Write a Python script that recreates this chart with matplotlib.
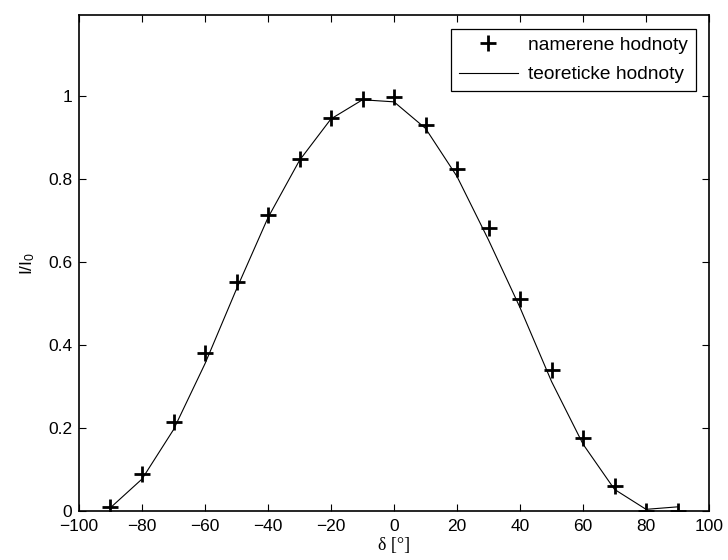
import matplotlib
matplotlib.use('Agg')
import matplotlib.pyplot as plt
import numpy as np

plt.rcParams['font.family'] = ['Liberation Sans', 'DejaVu Sans']
plt.rcParams['mathtext.fontset'] = 'custom'
plt.rcParams['mathtext.rm'] = 'Liberation Sans'
plt.rcParams['mathtext.it'] = 'Liberation Sans'

delta = [-90, -80, -70, -60, -50, -40, -30, -20, -10, 0,
         10, 20, 30, 40, 50, 60, 70, 80, 90]
measured = [0.010, 0.090, 0.214, 0.381, 0.552, 0.713, 0.849, 0.947, 0.993, 0.997,
            0.930, 0.825, 0.681, 0.512, 0.340, 0.177, 0.060, 0.001, 0.0]
theory = [0.008, 0.077, 0.196, 0.355, 0.535, 0.707, 0.845, 0.945, 0.991, 0.986,
          0.922, 0.806, 0.653, 0.490, 0.312, 0.161, 0.052, 0.004, 0.010]

xticks = np.arange(-100, 101, 20)
yticks = [0, 0.2, 0.4, 0.6, 0.8, 1]
ytick_labels = ['0', '0.2', '0.4', '0.6', '0.8', '1']

fig = plt.figure(figsize=(7.28, 5.6), dpi=100)
ax = fig.add_axes([0.1085, 0.0875, 0.8655, 0.8855])

ax.plot(delta, measured, linestyle='none', marker='+', color='black',
        markersize=11.5, markeredgewidth=2, label='namerene hodnoty')
ax.plot(delta, theory, color='black', linewidth=0.8, label='teoreticke hodnoty')

ax.set_xlim(-100, 100)
ax.set_ylim(0, 1.195)
ax.set_xticks(xticks)
ax.set_xticklabels([str(v).replace('-', '\u2212') for v in xticks])
ax.set_yticks(yticks)
ax.set_yticklabels(ytick_labels)
ax.tick_params(direction='in', length=5, width=0.8, top=True, right=True,
               labelsize=12.5)
ax.tick_params(axis='x', pad=6)
ax.tick_params(axis='y', pad=5)
for s in ax.spines.values():
    s.set_linewidth(1.2)

ax.set_xlabel('δ [°]', fontsize=13, family='Liberation Serif', labelpad=2)
ax.set_ylabel(r'$\mathrm{I/I_0}$', fontsize=12.5, labelpad=8)

leg = ax.legend(loc='upper right', fontsize=13.8, frameon=True, fancybox=False,
                handlelength=3.1, borderaxespad=0.7, labelspacing=0.62,
                borderpad=0.42, handletextpad=0.5)
leg.get_frame().set_edgecolor('black')
leg.get_frame().set_linewidth(0.9)
leg.get_frame().set_alpha(1)

fig.savefig('out.png', dpi=100)
